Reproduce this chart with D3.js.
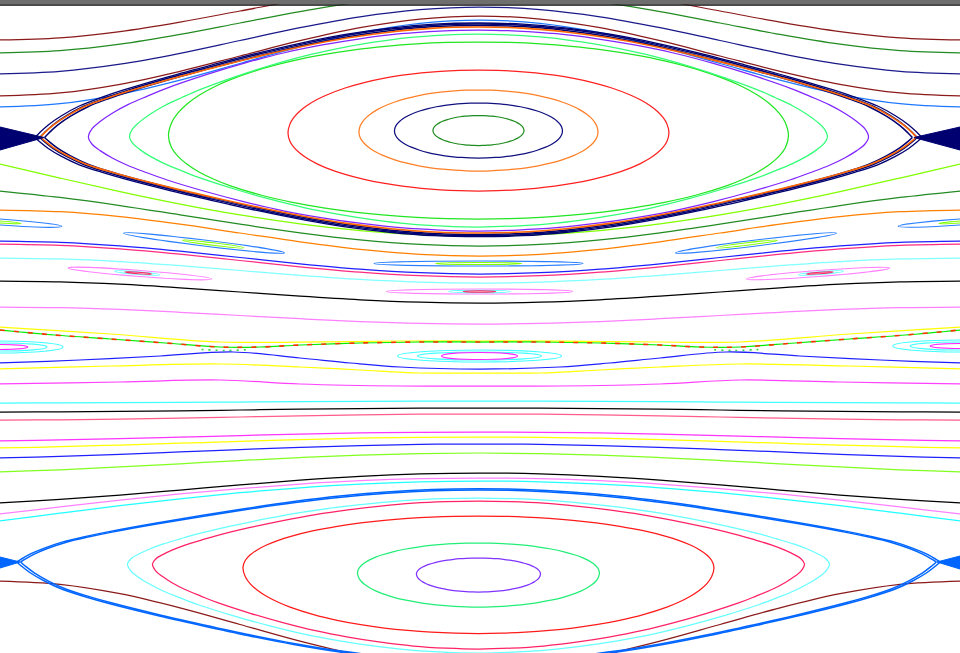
<!DOCTYPE html>
<html>
<head>
<meta charset="utf-8">
<script src="https://cdn.jsdelivr.net/npm/d3@7/dist/d3.min.js"></script>
<style>
  html, body { margin: 0; padding: 0; background: #fff; }
  svg { display: block; }
</style>
</head>
<body>
<script>
//phase portrait: x = angle / 2pi, y = momentum (lower island at p = 0)
var width = 960,
    height = 653;

//profiles for open orbits, sampled from the left edge to the middle
var openU = [0, 0.0625, 0.125, 0.1875, 0.25, 0.3125, 0.375, 0.4375, 0.5];
var openProfiles = {
    cos: [0, 0.038, 0.146, 0.309, 0.5, 0.691, 0.854, 0.962, 1],
    mid: [0, 0.117, 0.264, 0.433, 0.604, 0.761, 0.889, 0.971, 1],
    sin: [0, 0.195, 0.383, 0.556, 0.707, 0.831, 0.924, 0.981, 1]
};

//profiles for closed orbits, from the centre (u = 0) to the tip (u = 1)
var closedU = [0, 0.1, 0.2, 0.3, 0.4, 0.5, 0.6, 0.7, 0.8, 0.85, 0.9, 0.94, 0.97, 0.99, 1];
var closedProfiles = {
    round: [1, 0.995, 0.98, 0.954, 0.917, 0.866, 0.8, 0.714, 0.6, 0.527, 0.436, 0.341, 0.243, 0.141, 0],
    mid:   [1, 0.99, 0.965, 0.92, 0.86, 0.785, 0.69, 0.58, 0.455, 0.38, 0.3, 0.22, 0.145, 0.08, 0],
    sep:   [1, 0.99, 0.955, 0.9, 0.825, 0.735, 0.635, 0.53, 0.415, 0.35, 0.275, 0.19, 0.11, 0.04, 0]
};

//open orbits above the upper island
var topOrbits = [
    {y0: 5.35, yc: 5.93, shape: "cos", color: "#8b1a1a"},
    {y0: 5.22, yc: 5.82, shape: "cos", color: "#228b22"},
    {y0: 5.01, yc: 5.68, shape: "cos", color: "#1a1a8b"},
    {y0: 4.79, yc: 5.59, shape: "cos", color: "#8b1a1a"},
    {y0: 4.68, yc: 5.55, shape: "cos", color: "#1e78ff"}
];

//open orbits between the upper island and the period-2 chain
var midOrbits = [
    {y0: 4.11, yc: 3.39, shape: "sin", color: "#80ff00"},
    {y0: 3.84, yc: 3.29, shape: "mid", color: "#228b22"},
    {y0: 3.65, yc: 3.19, shape: "cos", color: "#ff8000"},
    {y0: 3.34, yc: 3.01, shape: "cos", color: "#1f1fff"},
    {y0: 3.31, yc: 2.98, shape: "cos", color: "#ff2a7f"},
    {y0: 3.17, yc: 2.92, shape: "cos", color: "#80ffff"},
    {y0: 2.94, yc: 2.72, shape: "cos", color: "#000000"},
    {y0: 2.68, yc: 2.51, shape: "cos", color: "#ff80ff"}
];

//open orbits between the period-2 chain and the lower island
var lowOrbits = [
    {y0: 1.72, yc: 1.74, shape: "cos", color: "#40ffff"},
    {y0: 1.63, yc: 1.67, shape: "cos", color: "#000000"},
    {y0: 1.55, yc: 1.61, shape: "cos", color: "#ff5c8a"},
    {y0: 1.34, yc: 1.43, shape: "mid", color: "#ff33ff"},
    {y0: 1.27, yc: 1.38, shape: "mid", color: "#ffff00"},
    {y0: 1.17, yc: 1.31, shape: "mid", color: "#2020ff"},
    {y0: 1.03, yc: 1.22, shape: "mid", color: "#80ff20"},
    {y0: 0.72, yc: 1.02, shape: "mid", color: "#000000"},
    {y0: 0.61, yc: 0.97, shape: "sin", color: "#ff80ff"},
    {y0: 0.54, yc: 0.94, shape: "sin", color: "#20ffff"},
    {y0: -0.06, yc: -0.93, shape: "cos", color: "#8b1a1a"}
];

//curves around the period-2 chain (left half, mirrored)
var chainLines = [
    {color: "#ffff00", pts: [[0, 2.48], [0.115, 2.41], [0.229, 2.33], [0.3125, 2.33], [0.417, 2.34], [0.5, 2.34]]},
    {color: "#00ee00", pts: [[0, 2.45], [0.057, 2.40], [0.115, 2.36], [0.172, 2.32], [0.229, 2.28], [0.271, 2.28], [0.3125, 2.30], [0.375, 2.32], [0.4375, 2.33], [0.5, 2.33]]},
    {color: "#ff3300", dash: "5,9", pts: [[0, 2.45], [0.057, 2.40], [0.115, 2.36], [0.172, 2.32], [0.229, 2.28], [0.271, 2.28], [0.3125, 2.30], [0.375, 2.32], [0.4375, 2.33], [0.5, 2.33]]},
    {color: "#33dd33", dash: "2,5", pts: [[0.21, 2.255], [0.235, 2.245], [0.26, 2.255]]},
    {color: "#1f1fff", pts: [[0, 2.12], [0.083, 2.15], [0.167, 2.19], [0.243, 2.23], [0.3125, 2.17], [0.365, 2.12], [0.417, 2.08], [0.5, 2.06]]},
    {color: "#ffff00", pts: [[0, 2.06], [0.115, 2.09], [0.229, 2.11], [0.3125, 2.08], [0.375, 2.05], [0.4375, 2.02], [0.5, 2.02]]},
    {color: "#ff40ff", pts: [[0, 1.91], [0.125, 1.93], [0.229, 1.95], [0.3125, 1.91], [0.417, 1.89], [0.5, 1.89]]}
];

//main islands
var upperCentre = {cx: 0.4984, cy: 4.445};
var upperOrbits = [
    {rx: 0.0474, hTop: 0.15, hBot: 0.15, tip: 0, shape: "round", color: "#1e8c1e"},
    {rx: 0.0875, hTop: 0.275, hBot: 0.275, tip: -0.005, shape: "round", color: "#10107f"},
    {rx: 0.1245, hTop: 0.405, hBot: 0.405, tip: -0.015, shape: "round", color: "#ff7f27"},
    {rx: 0.1984, hTop: 0.605, hBot: 0.605, tip: -0.025, shape: "round", color: "#ff2020"},
    {rx: 0.3229, hTop: 0.885, hBot: 0.885, tip: -0.055, shape: "round", color: "#22e622"},
    {rx: 0.3635, hTop: 0.965, hBot: 0.965, tip: -0.06, shape: "mid", color: "#33ff77"},
    {rx: 0.4063, hTop: 1.005, hBot: 1.005, tip: -0.065, shape: "mid", color: "#8026ff"}
];
var upperSeparatrix = [
    {rx: 0.452, hTop: 1.05, hBot: 1.04, tip: -0.07, top: "sep", bot: "sep", color: "#000070", w: 1.5},
    {rx: 0.457, hTop: 1.065, hBot: 1.052, tip: -0.07, top: "sep", bot: "sep", color: "#000070", w: 1.5},
    {rx: 0.462, hTop: 1.075, hBot: 1.062, tip: -0.07, top: "sep", bot: "sep", color: "#000070", w: 1.3},
    {rx: 0.4563, hTop: 1.035, hBot: 1.025, tip: -0.065, top: "sep", bot: "sep", color: "#ff6600", w: 1.6}
];

var lowerCentre = {cx: 0.4984, cy: 0};
var lowerOrbits = [
    {rx: 0.0646, hTop: 0.17, hBot: 0.17, tip: 0.01, shape: "round", color: "#8033ff"},
    {rx: 0.126, hTop: 0.32, hBot: 0.32, tip: 0.02, shape: "round", color: "#22ee77"},
    {rx: 0.2453, hTop: 0.59, hBot: 0.585, tip: 0.075, shape: "round", color: "#ff1a1a"},
    {rx: 0.3396, hTop: 0.74, hBot: 0.74, tip: 0.11, shape: "mid", color: "#ff2266"},
    {rx: 0.3656, hTop: 0.77, hBot: 0.78, tip: 0.11, shape: "mid", color: "#66ffff"}
];
var lowerSeparatrix = [
    {rx: 0.477, hTop: 0.85, hBot: 0.86, tip: 0.13, top: "sep", bot: "sep", color: "#0066ff", w: 1.5},
    {rx: 0.481, hTop: 0.862, hBot: 0.87, tip: 0.13, top: "sep", bot: "sep", color: "#0066ff", w: 1.5}
];

//filled fans at the hyperbolic points
var fans = [
    {color: "#000070", pts: [[0, 4.48], [0.046, 4.375], [0, 4.25]]},
    {color: "#000070", pts: [[1, 4.48], [0.952, 4.375], [1, 4.25]]},
    {color: "#0066ff", pts: [[0, 0.18], [0.021, 0.13], [0, 0.07]]},
    {color: "#0066ff", pts: [[1, 0.19], [0.976, 0.13], [1, 0.06]]}
];

//small island chains (a = tilt in degrees)
var islands = [
    //period 4
    {cx: 0, cy: 3.53, rx: 0.0646, ry: 0.03, a: 4, color: "#2a7fff"},
    {cx: 1, cy: 3.53, rx: 0.0646, ry: 0.03, a: -4, color: "#2a7fff"},
    {cx: 0.2125, cy: 3.32, rx: 0.0844, ry: 0.03, a: 7, color: "#2a7fff"},
    {cx: 0.7875, cy: 3.32, rx: 0.0844, ry: 0.03, a: -7, color: "#2a7fff"},
    {cx: 0.4984, cy: 3.115, rx: 0.109, ry: 0.025, a: 0, color: "#2a7fff"},
    {cx: 0, cy: 3.53, rx: 0.022, ry: 0.01, a: 4, color: "#80ff00"},
    {cx: 1, cy: 3.53, rx: 0.022, ry: 0.01, a: -4, color: "#80ff00"},
    {cx: 0.222, cy: 3.31, rx: 0.032, ry: 0.012, a: 7, color: "#80ff00"},
    {cx: 0.778, cy: 3.31, rx: 0.032, ry: 0.012, a: -7, color: "#80ff00"},
    {cx: 0.4984, cy: 3.115, rx: 0.045, ry: 0.01, a: 0, color: "#80ff00"},
    //period 3
    {cx: 0.1458, cy: 3.015, rx: 0.075, ry: 0.03, a: 4.4, color: "#ff80ff"},
    {cx: 0.852, cy: 3.015, rx: 0.075, ry: 0.03, a: -4.4, color: "#ff80ff"},
    {cx: 0.4995, cy: 2.835, rx: 0.097, ry: 0.025, a: 0, color: "#ff80ff"},
    {cx: 0.143, cy: 3.02, rx: 0.0234, ry: 0.013, a: 4.4, color: "#60ffff"},
    {cx: 0.855, cy: 3.02, rx: 0.0234, ry: 0.013, a: -4.4, color: "#60ffff"},
    {cx: 0.4995, cy: 2.835, rx: 0.032, ry: 0.012, a: 0, color: "#60ffff"},
    {cx: 0.144, cy: 3.02, rx: 0.014, ry: 0.007, a: 4.4, color: "#ff2060"},
    {cx: 0.854, cy: 3.02, rx: 0.014, ry: 0.007, a: -4.4, color: "#ff2060"},
    {cx: 0.4995, cy: 2.835, rx: 0.017, ry: 0.007, a: 0, color: "#ff2060"},
    //period 2
    {cx: 0, cy: 2.28, rx: 0.0656, ry: 0.06, a: 0, color: "#40ffff"},
    {cx: 0, cy: 2.28, rx: 0.049, ry: 0.04, a: 0, color: "#40ffff"},
    {cx: 0, cy: 2.28, rx: 0.029, ry: 0.025, a: 0, color: "#ff20ff"},
    {cx: 1, cy: 2.29, rx: 0.07, ry: 0.06, a: 0, color: "#40ffff"},
    {cx: 1, cy: 2.29, rx: 0.052, ry: 0.04, a: 0, color: "#40ffff"},
    {cx: 1, cy: 2.29, rx: 0.031, ry: 0.025, a: 0, color: "#ff20ff"},
    {cx: 0.4995, cy: 2.19, rx: 0.0854, ry: 0.06, a: 0, color: "#40ffff"},
    {cx: 0.4995, cy: 2.19, rx: 0.0646, ry: 0.04, a: 0, color: "#40ffff"},
    {cx: 0.4995, cy: 2.19, rx: 0.0396, ry: 0.035, a: 0, color: "#ff20ff"}
];

//scales
var x = d3.scaleLinear().domain([0, 1]).range([0, width]);
var y = d3.scaleLinear().domain([-0.78, 5.75]).range([height, 0]);

var svg = d3.select("body")
    .append("svg")
    .attr("width", width)
    .attr("height", height);

var line = d3.line()
    .x(function(d){ return x(d[0]); })
    .y(function(d){ return y(d[1]); })
    .curve(d3.curveCatmullRom.alpha(0.5));
var closedLine = d3.line()
    .x(function(d){ return x(d[0]); })
    .y(function(d){ return y(d[1]); })
    .curve(d3.curveCatmullRomClosed.alpha(0.5));

var plot = svg.append("g")
    .attr("fill", "none")
    .attr("stroke-width", 1.25);

//open orbit: left half from the profile, right half mirrored
function openPoints(o){
    var f = openProfiles[o.shape];
    var pts = openU.map(function(u, i){ return [u, o.y0 + (o.yc - o.y0) * f[i]]; });
    for (var i = openU.length - 2; i >= 0; i--){
        pts.push([1 - openU[i], o.y0 + (o.yc - o.y0) * f[i]]);
    }
    return pts;
}

function mirrored(pts){
    var out = pts.slice();
    for (var i = pts.length - 2; i >= 0; i--){
        out.push([1 - pts[i][0], pts[i][1]]);
    }
    return out;
}

//one half of a closed orbit, from the left tip to the right tip
function halfPoints(c, o, prof, h){
    var pts = [];
    for (var i = closedU.length - 1; i >= 0; i--){
        pts.push([c.cx - closedU[i] * o.rx, c.cy + o.tip * (1 - prof[i]) + h * prof[i]]);
    }
    for (var j = 1; j < closedU.length; j++){
        pts.push([c.cx + closedU[j] * o.rx, c.cy + o.tip * (1 - prof[j]) + h * prof[j]]);
    }
    return pts;
}

function closedPoints(c, o){
    var prof = closedProfiles[o.shape];
    var top = halfPoints(c, o, prof, o.hTop);
    var bot = halfPoints(c, o, prof, -o.hBot);
    //drop both tips from the bottom half and walk it backwards
    return top.concat(bot.slice(1, bot.length - 1).reverse());
}

plot.selectAll(".open")
    .data(topOrbits.concat(midOrbits, lowOrbits))
    .enter()
    .append("path")
    .attr("class", "open")
    .attr("stroke", function(d){ return d.color; })
    .attr("d", function(d){ return line(openPoints(d)); });

plot.selectAll(".chain")
    .data(chainLines)
    .enter()
    .append("path")
    .attr("class", "chain")
    .attr("stroke", function(d){ return d.color; })
    .attr("stroke-width", function(d){ return d.dash ? 1.6 : 1.25; })
    .attr("stroke-dasharray", function(d){ return d.dash || null; })
    .attr("d", function(d){ return d.pts[0][0] > 0 ? line(d.pts) + line(d.pts.map(function(p){ return [1 - p[0], p[1]]; })) : line(mirrored(d.pts)); });

plot.selectAll(".island")
    .data(islands)
    .enter()
    .append("ellipse")
    .attr("class", "island")
    .attr("stroke", function(d){ return d.color; })
    .attr("stroke-width", 1.1)
    .attr("cx", 0)
    .attr("cy", 0)
    .attr("rx", function(d){ return x(d.rx) - x(0); })
    .attr("ry", function(d){ return y(0) - y(d.ry); })
    .attr("transform", function(d){ return "translate(" + x(d.cx) + "," + y(d.cy) + ") rotate(" + d.a + ")"; });

function drawIsland(centre, orbits, seps){
    plot.append("g").selectAll("path")
        .data(orbits)
        .enter()
        .append("path")
        .attr("stroke", function(d){ return d.color; })
        .attr("d", function(d){ return closedLine(closedPoints(centre, d)); });

    var g = plot.append("g");
    seps.forEach(function(s){
        [halfPoints(centre, s, closedProfiles[s.top], s.hTop),
         halfPoints(centre, s, closedProfiles[s.bot], -s.hBot)].forEach(function(pts){
            g.append("path")
                .attr("stroke", s.color)
                .attr("stroke-width", s.w)
                .attr("d", line(pts));
        });
    });
}

drawIsland(upperCentre, upperOrbits, upperSeparatrix);
drawIsland(lowerCentre, lowerOrbits, lowerSeparatrix);

svg.selectAll(".fan")
    .data(fans)
    .enter()
    .append("path")
    .attr("class", "fan")
    .attr("fill", function(d){ return d.color; })
    .attr("stroke", function(d){ return d.color; })
    .attr("stroke-width", 1)
    .attr("d", function(d){ return d3.line().x(function(p){ return x(p[0]); }).y(function(p){ return y(p[1]); })(d.pts) + "Z"; });

//window frame strip at the top
svg.append("rect")
    .attr("x", 0).attr("y", 0)
    .attr("width", width).attr("height", 4.5)
    .attr("fill", "#6e6e6e");
svg.append("rect")
    .attr("x", 0).attr("y", 4.3)
    .attr("width", width).attr("height", 1.5)
    .attr("fill", "#1e1e1e");
</script>
</body>
</html>
